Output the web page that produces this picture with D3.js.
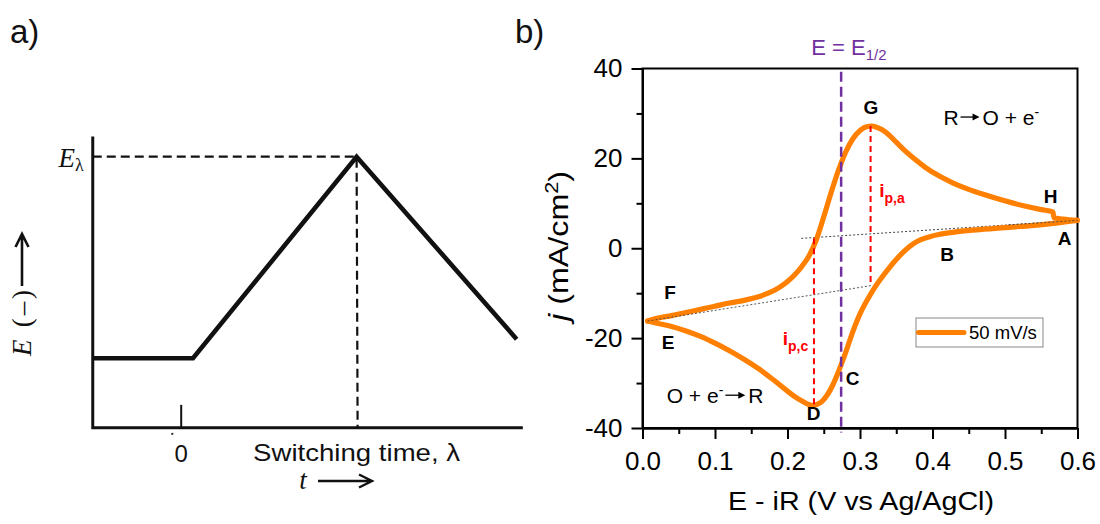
<!DOCTYPE html>
<html><head><meta charset="utf-8">
<script src="https://cdn.jsdelivr.net/npm/d3@7"></script>
<style>
body{margin:0;background:#fff}
svg{display:block}
text{font-family:"Liberation Sans",Arial,Helvetica,sans-serif}
.serif{font-family:"Liberation Serif","Times New Roman",serif}
</style>
</head><body>
<svg id="c" width="1100" height="524"></svg>
<script>
// ---------- Panel a: potential waveform ----------
const aTime = [-0.5, 0.07, 1.0, 1.91];
const aPotential = [0, 0, 1, 0.095];
const aSwitchTime = 1.0;
const aSwitchPotential = 1.0;
const aTimeExtent = [-0.5, 1.945];
const aPotExtent = [-0.345, 1.1];
const aTickValues = [0];

// ---------- Panel b: cyclic voltammogram (50 mV/s) ----------
// cathodic scan A -> B -> C -> D -> E (listed by increasing potential)
const cathodicE = [0.007,0.02,0.04,0.06,0.08,0.10,0.12,0.14,0.16,0.18,0.20,0.21,0.22,0.228,0.234,0.24,0.248,0.255,0.262,0.27,0.28,0.29,0.30,0.31,0.32,0.33,0.34,0.35,0.36,0.37,0.38,0.395,0.41,0.43,0.46,0.50,0.54,0.57,0.60];
const cathodicJ = [-16.2,-16.7,-17.4,-18.4,-19.6,-21.1,-22.8,-24.7,-26.8,-29.2,-31.8,-33.0,-34.0,-34.7,-35.0,-34.8,-34.0,-32.6,-30.6,-27.6,-23.3,-18.6,-14.6,-11.5,-8.8,-6.5,-4.4,-2.5,-0.8,0.6,1.6,2.5,3.1,3.6,4.1,4.6,5.1,5.6,6.2];
// anodic scan E -> F -> G -> H -> A
const anodicE = [0.007,0.02,0.04,0.06,0.08,0.10,0.12,0.14,0.16,0.175,0.19,0.20,0.21,0.22,0.23,0.24,0.25,0.26,0.27,0.28,0.29,0.30,0.31,0.316,0.322,0.33,0.34,0.35,0.36,0.375,0.39,0.41,0.43,0.45,0.47,0.49,0.51,0.53,0.55,0.566,0.5675,0.58,0.60];
const anodicJ = [-16.2,-15.6,-15.0,-14.3,-13.6,-12.9,-12.2,-11.6,-10.8,-9.9,-8.6,-7.4,-5.9,-4.0,-1.6,2.0,7.0,12.3,17.2,21.3,24.3,26.2,27.1,27.2,27.0,26.4,25.2,23.6,22.0,19.9,18.0,16.0,14.4,13.1,12.0,11.0,10.1,9.3,8.6,8.1,6.8,6.5,6.2];
const baselineAnodicE = [0.219, 0.600];
const baselineAnodicJ = [2.2, 6.2];
const baselineCathodicE = [0.007, 0.316];
const baselineCathodicJ = [-16.2, -8.3];
const peakAnodic = {E: 0.3146, top: 27.2, bottom: -8.3};
const peakCathodic = {E: 0.2365, top: 2.2, bottom: -34.9};
const halfWaveE = 0.274;
const halfWaveJ = [39.3, -41];
const xTicks = [0, 0.1, 0.2, 0.3, 0.4, 0.5, 0.6];
const xMinorTicks = [0.05, 0.15, 0.25, 0.35, 0.45, 0.55];
const yTicks = [-40, -20, 0, 20, 40];
const yMinorTicks = [-30, -10, 10, 30];
const pointLabels = ["A","B","C","D","E","F","G","H"];
const pointLabelE = [0.5823, 0.420, 0.2897, 0.2359, 0.0352, 0.038, 0.315, 0.5628];
const pointLabelJ = [2.3, -1.3, -28.9, -36.7, -20.8, -9.7, 31.4, 11.5];
const legendLabel = "50 mV/s";

const ORANGE = "#FF8000", PURPLE = "#7030A0", RED = "#FF0000";
const svg = d3.select("#c");

// ================= PANEL A =================
const xa = d3.scaleLinear().domain([0, aSwitchTime]).range([180.7, 356.6]);
const ya = d3.scaleLinear().domain([0, aSwitchPotential]).range([358.3, 156.7]);
const ga = svg.append("g");
const ax0 = xa(aTimeExtent[0]), ax1 = xa(aTimeExtent[1]);
const ay0 = ya(aPotExtent[0]), ay1 = ya(aPotExtent[1]);

ga.append("path").attr("d", d3.line()([[ax0, ay1],[ax0, ay0],[ax1, ay0]]))
  .attr("fill","none").attr("stroke","#111").attr("stroke-width",3);
const xaAxis = d3.axisBottom(xa).tickValues(aTickValues).tickSize(-23).tickSizeOuter(0).tickPadding(17).tickFormat(d3.format("d"));
const gxa = ga.append("g").attr("transform", `translate(0,${ay0})`).call(xaAxis);
gxa.select(".domain").remove();
gxa.selectAll(".tick line").attr("stroke","#111").attr("stroke-width",2);
gxa.selectAll(".tick text").attr("font-size",24).attr("fill","#111")
  .attr("font-family","Liberation Sans, Arial, sans-serif");
ga.append("circle").attr("cx", xa(-0.048)).attr("cy", ay0+6).attr("r",1.2).attr("fill","#333");

ga.append("path").attr("d", d3.line()([[ax0, ya(aSwitchPotential)],[xa(aSwitchTime), ya(aSwitchPotential)],[xa(aSwitchTime)+1, ay0]]))
  .attr("fill","none").attr("stroke","#111").attr("stroke-width",2.2).attr("stroke-dasharray","9,5");

ga.append("path").datum(aTime.map((t,i)=>[t, aPotential[i]]))
  .attr("d", d3.line().x(d=>xa(d[0])).y(d=>ya(d[1])))
  .attr("fill","none").attr("stroke","#111").attr("stroke-width",4.6).attr("stroke-linejoin","miter");

const el = ga.append("text").attr("class","serif").attr("x", ax0-9).attr("y", ya(aSwitchPotential)+10)
  .attr("text-anchor","end").attr("font-size",27).attr("fill","#111");
el.append("tspan").attr("font-style","italic").text("E");
el.append("tspan").attr("font-size",18).attr("dy",4).text("λ");

ga.append("text").attr("x", xa(aSwitchTime)).attr("y", ay0+33).attr("text-anchor","middle")
  .attr("font-size",24).attr("fill","#111").attr("textLength",207).attr("lengthAdjust","spacingAndGlyphs")
  .text("Switching time, λ");

ga.append("text").attr("class","serif").attr("x", 303).attr("y", 489).attr("text-anchor","middle")
  .attr("font-size",27).attr("font-style","italic").attr("fill","#111").text("t");
ga.append("path").attr("d","M318,481 L371,481 M359,474.5 L372,481 L359,487.5")
  .attr("fill","none").attr("stroke","#111").attr("stroke-width",2.4);

const yl = ga.append("text").attr("class","serif").attr("transform","translate(31,356) rotate(-90)")
  .attr("font-size",27).attr("fill","#111").attr("textLength",66).attr("lengthAdjust","spacing");
yl.append("tspan").attr("font-style","italic").text("E");
yl.append("tspan").text(" (–)");
ga.append("path").attr("d","M22,286 L22,234 M15.5,247 L22,234 L28.5,247")
  .attr("fill","none").attr("stroke","#111").attr("stroke-width",2.6);

svg.append("text").attr("x",10).attr("y",43).attr("font-size",33).attr("fill","#111").text("a)");
svg.append("text").attr("x",515).attr("y",43).attr("font-size",33).attr("fill","#111").text("b)");

// ================= PANEL B =================
const xb = d3.scaleLinear().domain([0, 0.6]).range([642.5, 1077.5]);
const yb = d3.scaleLinear().domain([-40, 40]).range([428, 68.5]);
const gb = svg.append("g");

gb.append("rect").attr("x", xb(0)).attr("y", yb(40)).attr("width", xb(0.6)-xb(0)).attr("height", yb(-40)-yb(40))
  .attr("fill","none").attr("stroke","#000").attr("stroke-width",2);

function styleAxis(g){
  g.select(".domain").attr("stroke","#000").attr("stroke-width",2);
  g.selectAll(".tick line").attr("stroke","#000").attr("stroke-width",2);
  g.selectAll(".tick text").attr("font-size",26).attr("fill","#000")
    .attr("font-family","Liberation Sans, Arial, sans-serif");
}
const gx = gb.append("g").attr("transform",`translate(0,${yb(-40)})`)
  .call(d3.axisBottom(xb).tickValues(xTicks).tickSize(11).tickSizeOuter(0).tickPadding(13).tickFormat(d3.format(".1f")));
styleAxis(gx);
const gxm = gb.append("g").attr("transform",`translate(0,${yb(-40)})`)
  .call(d3.axisBottom(xb).tickValues(xMinorTicks).tickSize(6).tickSizeOuter(0).tickFormat(""));
styleAxis(gxm);
const gy = gb.append("g").attr("transform",`translate(${xb(0)},0)`)
  .call(d3.axisLeft(yb).tickValues(yTicks).tickSize(11).tickSizeOuter(0).tickPadding(9).tickFormat(d => String(d)));
styleAxis(gy);
const gym = gb.append("g").attr("transform",`translate(${xb(0)},0)`)
  .call(d3.axisLeft(yb).tickValues(yMinorTicks).tickSize(6).tickSizeOuter(0).tickFormat(""));
styleAxis(gym);

gb.append("text").attr("x", 861).attr("y", 510).attr("text-anchor","middle")
  .attr("font-size",25).attr("fill","#000").attr("textLength",266).attr("lengthAdjust","spacingAndGlyphs")
  .text("E - iR (V vs Ag/AgCl)");
const yt = gb.append("text").attr("transform",`translate(568,246) rotate(-90)`).attr("text-anchor","middle")
  .attr("font-size",27).attr("fill","#000").attr("textLength",150).attr("lengthAdjust","spacingAndGlyphs");
yt.append("tspan").attr("font-style","italic").text("j");
yt.append("tspan").text(" (mA/cm");
yt.append("tspan").attr("font-size",18).attr("dy",-10).text("2");
yt.append("tspan").attr("dy",10).text(")");

const lineB = d3.line().x(d=>xb(d[0])).y(d=>yb(d[1]));
gb.append("path").attr("d", lineB(baselineAnodicE.map((e,i)=>[e,baselineAnodicJ[i]])))
  .attr("stroke","#444").attr("stroke-width",1).attr("stroke-dasharray","2,2").attr("fill","none");

const cvLine = d3.line().x(d=>xb(d[0])).y(d=>yb(d[1])).curve(d3.curveMonotoneX);
[[cathodicE, cathodicJ],[anodicE, anodicJ]].forEach(([E,J])=>{
  gb.append("path").datum(E.map((e,i)=>[e, J[i]])).attr("d", cvLine)
    .attr("fill","none").attr("stroke",ORANGE).attr("stroke-width",5.2)
    .attr("stroke-linejoin","round").attr("stroke-linecap","round");
});

gb.append("path").attr("d", lineB(baselineCathodicE.map((e,i)=>[e,baselineCathodicJ[i]])))
  .attr("stroke","#444").attr("stroke-width",0.9).attr("stroke-dasharray","2,2").attr("fill","none");
gb.append("path").attr("d", lineB([0.75, 1].map(f=>[baselineAnodicE[0]+(baselineAnodicE[1]-baselineAnodicE[0])*f, baselineAnodicJ[0]+(baselineAnodicJ[1]-baselineAnodicJ[0])*f])))
  .attr("stroke","#444").attr("stroke-width",0.9).attr("stroke-dasharray","2,2").attr("fill","none");

[peakAnodic, peakCathodic].forEach(p=>{
  gb.append("line").attr("x1", xb(p.E)).attr("x2", xb(p.E)).attr("y1", yb(p.top)).attr("y2", yb(p.bottom))
    .attr("stroke",RED).attr("stroke-width",2).attr("stroke-dasharray","6,4");
});

gb.append("line").attr("x1", xb(halfWaveE)).attr("x2", xb(halfWaveE)).attr("y1", yb(halfWaveJ[0])).attr("y2", yb(halfWaveJ[1]))
  .attr("stroke",PURPLE).attr("stroke-width",2.5).attr("stroke-dasharray","10,5");
const hw = gb.append("text").attr("x", xb(0.2848)).attr("y", 55).attr("text-anchor","middle")
  .attr("font-size",22).attr("fill",PURPLE);
hw.append("tspan").text("E = E");
hw.append("tspan").attr("font-size",15).attr("dy",5).text("1/2");

pointLabels.forEach((l,i)=>{
  gb.append("text").attr("x", xb(pointLabelE[i])).attr("y", yb(pointLabelJ[i])).attr("dy","0.36em")
    .attr("text-anchor","middle").attr("font-size",19).attr("font-weight","bold").attr("fill","#000").text(l);
});

function peakLabel(E, J, sub){
  const t = gb.append("text").attr("x", xb(E)).attr("y", yb(J)).attr("dy","0.36em")
    .attr("font-size",19).attr("font-weight","bold").attr("fill",RED);
  t.append("tspan").text("i");
  t.append("tspan").attr("font-size",14).attr("dy",6).text(sub);
}
peakLabel(0.3266, 13.0, "p,a");
peakLabel(0.1934, -20.0, "p,c");

function arrow(g, x, y, len){
  g.append("line").attr("x1",x).attr("x2",x+len-5).attr("y1",y).attr("y2",y).attr("stroke","#000").attr("stroke-width",1.3);
  g.append("path").attr("d",`M${x+len-7},${y-3.5} L${x+len},${y} L${x+len-7},${y+3.5} Z`).attr("fill","#000");
}
{
  const x0 = xb(0.415), y0 = yb(29.2)+7.5;
  const t1 = gb.append("text").attr("x",x0).attr("y",y0).attr("font-size",21).attr("fill","#000").text("R");
  const w1 = t1.node().getComputedTextLength();
  arrow(gb, x0+w1+2, y0-7.5, 19);
  const t2 = gb.append("text").attr("x",x0+w1+24).attr("y",y0).attr("font-size",21).attr("fill","#000");
  t2.append("tspan").text("O + e");
  t2.append("tspan").attr("font-size",14).attr("dy",-8).text("-");
}
{
  const x0 = xb(0.0334), y0 = yb(-32.7)+7.5;
  const t1 = gb.append("text").attr("x",x0).attr("y",y0).attr("font-size",21).attr("fill","#000");
  t1.append("tspan").text("O + e");
  t1.append("tspan").attr("font-size",14).attr("dy",-8).text("-");
  const w1 = t1.node().getComputedTextLength();
  arrow(gb, x0+w1+2, y0-7.5, 20);
  gb.append("text").attr("x",x0+w1+25).attr("y",y0).attr("font-size",21).attr("fill","#000").text("R");
}

const lg = gb.append("g").attr("transform",`translate(916,318)`);
lg.append("rect").attr("width",127).attr("height",29).attr("fill","#fff").attr("stroke","#888").attr("stroke-width",1);
lg.append("line").attr("x1",2.5).attr("x2",48).attr("y1",14.5).attr("y2",14.5).attr("stroke",ORANGE).attr("stroke-width",5).attr("stroke-linecap","round");
lg.append("text").attr("x",53).attr("y",14.5).attr("dy","0.36em").attr("font-size",18.5).attr("fill","#000").text(legendLabel);
</script>
</body></html>
